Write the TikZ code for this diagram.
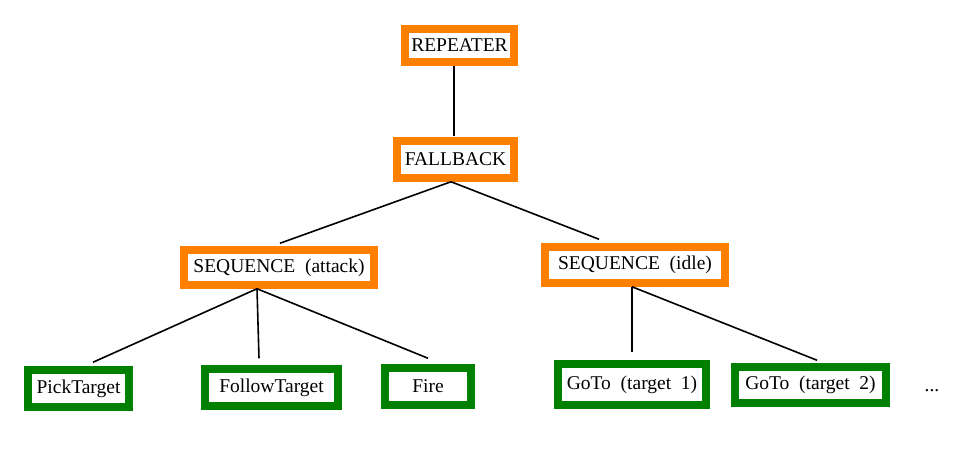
\documentclass[tikz,border=0pt]{standalone}
\usepackage{fontspec}
\setmainfont{Liberation Serif}
\definecolor{btorange}{HTML}{FF8000}
\definecolor{btgreen}{HTML}{008000}
\tikzset{
  ctrl/.style={shape=rectangle, draw=btorange, line width=7.5pt, inner sep=0pt, fill=white},
  leaf/.style={shape=rectangle, draw=btgreen, line width=7.5pt, inner sep=0pt, fill=white},
  link/.style={-, line width=1.6pt, draw=black}
}
\begin{document}
\begin{tikzpicture}[x=1pt, y=-1pt, font=\fontsize{19.5}{24}\selectfont]
\useasboundingbox (0,0) rectangle (957,449);
\node[ctrl, minimum width=109pt, minimum height=33pt] (R) at (459.5, 45.5) {REPEATER};
\node[ctrl, minimum width=117pt, minimum height=37pt] (F) at (455.5, 159.5) {FALLBACK};
\node[ctrl, minimum width=190pt, minimum height=35pt] (SA) at (279, 267.5) {SEQUENCE~~(attack)};
\node[ctrl, minimum width=180pt, minimum height=36pt] (SI) at (635, 265) {SEQUENCE~~(idle)};
\node[leaf, minimum width=101pt, minimum height=37pt] (PT) at (78.5, 388.5) {PickTarget};
\node[leaf, minimum width=133pt, minimum height=37pt] (FT) at (271.5, 387.5) {FollowTarget};
\node[leaf, minimum width=86pt, minimum height=37pt] (FI) at (428, 386.5) {Fire};
\node[leaf, minimum width=148pt, minimum height=41pt] (G1) at (632, 384.5) {GoTo~~(target~~1)};
\node[leaf, minimum width=151pt, minimum height=36pt] (G2) at (810.5, 385) {GoTo~~(target~~2)};
\node[anchor=base] (more) at (932, 391) {...};
\path[link] ([xshift=-5.5pt]R.south) edge ([xshift=-1.5pt, yshift=1pt]F.north);
\path[link] ([xshift=-4.5pt]F.south) edge ([xshift=1pt, yshift=3pt]SA.north);
\path[link] ([xshift=-4.5pt]F.south) edge ([xshift=-36pt, yshift=4pt]SI.north);
\path[link] ([xshift=-22pt]SA.south) edge ([xshift=14.5pt, yshift=4pt]PT.north);
\path[link] ([xshift=-22pt]SA.south) edge ([xshift=-12.5pt, yshift=7pt]FT.north);
\path[link] ([xshift=-22pt]SA.south) edge ([yshift=6pt]FI.north);
\path[link] ([xshift=-3pt]SI.south) edge ([yshift=8pt]G1.north);
\path[link] ([xshift=-3pt]SI.south) edge ([xshift=6.5pt, yshift=3pt]G2.north);
\end{tikzpicture}
\end{document}
